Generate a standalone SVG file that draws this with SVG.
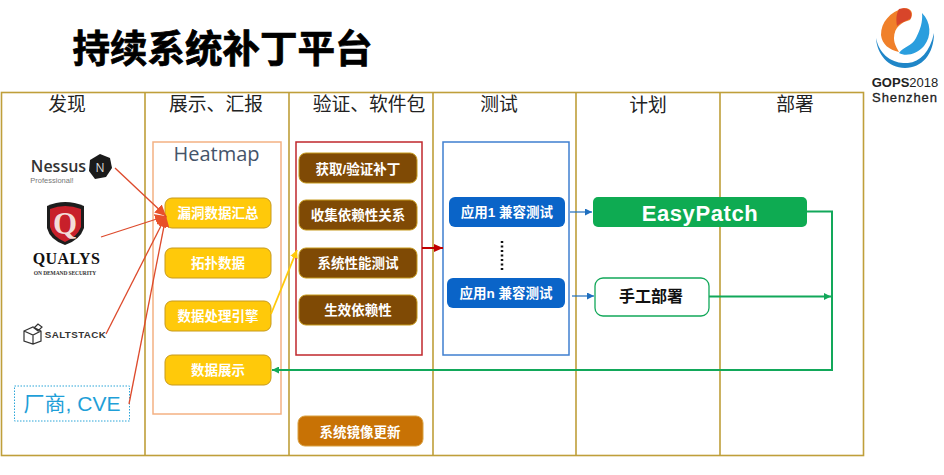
<svg xmlns="http://www.w3.org/2000/svg" width="944" height="475" viewBox="0 0 944 475">
<style>
text{font-family:"Liberation Sans","Noto Sans CJK SC",sans-serif;text-anchor:middle}
.h{font-size:18.8px;fill:#222}
.grid{fill:none;stroke:#bf9f3a;stroke-width:1.6}
.y rect{fill:#ffc90a;stroke:#c79a1c;stroke-width:1}
.y text,.b text,.o text{fill:#fff;font-size:13.5px;font-weight:700}
.b rect{fill:#7f4a05;stroke:#c79a1c;stroke-width:1}
.o rect{fill:#c87205;stroke:#d9a040;stroke-width:1}
.t rect{fill:#0a64c8}
.t text{fill:#fff;font-size:13.5px;font-weight:700}
.red{stroke:#dd4a2c;stroke-width:1.3;fill:none}
.grn{stroke:#12a85a;stroke-width:2;fill:none}
.blu{stroke:#1f6fbf;stroke-width:1.2;fill:none}
</style>
<defs>
<marker id="mr" markerUnits="userSpaceOnUse" markerWidth="12" markerHeight="11" refX="11" refY="5.500" orient="auto"><path d="M0 0L11 5.500L0 11z" fill="#e8502a"/></marker>
<marker id="my" markerUnits="userSpaceOnUse" markerWidth="9" markerHeight="8" refX="8" refY="4" orient="auto"><path d="M0 0L8 4L0 8z" fill="#ffc90a"/></marker>
<marker id="md" markerUnits="userSpaceOnUse" markerWidth="10" markerHeight="8" refX="9" refY="4" orient="auto"><path d="M0 0L9 4L0 8z" fill="#c00000"/></marker>
<marker id="mb" markerUnits="userSpaceOnUse" markerWidth="8" markerHeight="7" refX="7" refY="3.500" orient="auto"><path d="M0 0L7 3.500L0 7z" fill="#1f6fbf"/></marker>
<marker id="mg" markerUnits="userSpaceOnUse" markerWidth="8" markerHeight="7" refX="7" refY="3.500" orient="auto"><path d="M0 0L7 3.500L0 7z" fill="#12a85a"/></marker>
</defs>
<rect width="944" height="475" fill="#fff"/>
<text id="title" x="222.500" y="62" style="font-size:37.500px;font-weight:700;stroke:#000;stroke-width:.7" fill="#000">持续系统补丁平台</text>
<g id="grid">
<rect class="grid" x="1.500" y="92.500" width="862" height="363"/>
<path class="grid" d="M145 92V456M289 92V456M433 92V456M576 92V456M720 92V456"/>
</g>
<g id="headers">
<text class="h" x="67" y="111">发现</text>
<text class="h" x="216" y="111">展示、汇报</text>
<text class="h" x="369" y="111">验证、软件包</text>
<text class="h" x="499" y="111">测试</text>
<text class="h" x="648" y="112">计划</text>
<text class="h" x="795" y="111">部署</text>
</g>
<g id="logo">
<path d="M876 38C880 58 896 64 908 63C920 62 930 52 934 33C934 54 922 68 905 68C888 68 877 54 876 38z" fill="#1f86c8"/>
<path d="M881 35C881 22 890 12 904 8C912 8 914 14 910 20C902 22 894 27 894 38C894 44 897 48 899 52C889 50 882 44 881 35z" fill="#f0802a"/>
<path d="M899 9C906 7 913 9 911 18C907 21 901 22 897 26C896 20 896 14 899 9z" fill="#d8452a"/>
<path d="M922 13C931 22 932 36 924 46C917 54 906 57 899 53C903 47 912 46 916 38C920 30 923 22 922 13z" fill="#2a9ede"/>
<text x="905" y="87" style="font-size:13px;font-weight:700" fill="#222">GOPS<tspan font-weight="400">2018</tspan></text>
<text x="905" y="102" style="font-size:13px;font-weight:400;letter-spacing:.9px;stroke:#222;stroke-width:.3" fill="#222">Shenzhen</text>
</g>
<g id="nessus">
<text x="58.500" y="172" style="font-size:16px;font-family:'Open Sans',sans-serif;font-weight:600" fill="#333">Nessus</text>
<path d="M100 154L110 158L112 168L106 177L95 179L89 171L90 160z" fill="#1a1a1a"/>
<text x="100" y="172" style="font-size:12px;font-family:'Open Sans',sans-serif" fill="#ddd">N</text>
<text x="52" y="183" style="font-size:7.500px" fill="#777">Professional!</text>
</g>
<g id="qualys">
<path d="M47 206Q65 198 84 206V228Q80 240 65 245Q50 240 47 228z" fill="#1d1d1d"/>
<path d="M50 209Q65 203 81 209V227Q77 237 65 242Q53 237 50 227z" fill="#c8202a"/>
<text x="65" y="234" style="font-size:31px;font-weight:700;font-family:'Liberation Serif',serif" fill="#f3dcd8">Q</text>
<text x="66.500" y="264" style="font-size:16px;font-weight:700;letter-spacing:.4px;font-family:'Liberation Serif',serif" fill="#111">QUALYS</text>
<text x="65" y="275" style="font-size:5.500px;letter-spacing:-.1px;font-family:'Liberation Serif',serif;font-weight:700" fill="#333">ON DEMAND SECURITY</text>
</g>
<g id="saltstack">
<path d="M24 331L33 327L41 331V341L33 344L24 341zM24 331L33 335L41 331M33 335V344M34 328L38 324L42 327L38 331z" fill="none" stroke="#333" stroke-width="1.200"/>
<text x="75.500" y="338" style="font-size:9.800px;font-weight:700;letter-spacing:.4px" fill="#333">SALTSTACK</text>
</g>
<g id="vendor">
<rect x="14.500" y="386" width="115" height="35" fill="#fff" stroke="#2aa5d8" stroke-width="1" stroke-dasharray="1.500 1.500"/>
<text x="72" y="411" style="font-size:21px" fill="#1f9fd8">厂商, CVE</text>
</g>
<g id="heatmap">
<rect x="153" y="142" width="128" height="272" fill="none" stroke="#f4b183" stroke-width="1.500"/>
<text x="216.500" y="161" style="font-size:20px;font-family:'Open Sans',sans-serif" fill="#44546a">Heatmap</text>
</g>
<g id="n1" class="y"><rect x="165" y="198" width="106" height="30" rx="7"/><text x="218" y="218">漏洞数据汇总</text></g>
<g id="n2" class="y"><rect x="165" y="248" width="106" height="30" rx="7"/><text x="218" y="268">拓扑数据</text></g>
<g id="n3" class="y"><rect x="165" y="301" width="106" height="30" rx="7"/><text x="218" y="321">数据处理引擎</text></g>
<g id="n4" class="y"><rect x="165" y="355" width="106" height="30" rx="7"/><text x="218" y="375">数据展示</text></g>
<g id="verify"><rect x="296" y="142" width="126" height="213" fill="none" stroke="#c0272d" stroke-width="1.500"/></g>
<g id="n5" class="b"><rect x="299" y="153" width="118" height="30" rx="7"/><text x="358" y="174">获取/验证补丁</text></g>
<g id="n6" class="b"><rect x="299" y="200" width="118" height="30" rx="7"/><text x="358" y="220">收集依赖性关系</text></g>
<g id="n7" class="b"><rect x="299" y="248" width="118" height="30" rx="7"/><text x="358" y="268">系统性能测试</text></g>
<g id="n8" class="b"><rect x="299" y="295" width="118" height="30" rx="7"/><text x="358" y="315">生效依赖性</text></g>
<g id="n9" class="o"><rect x="298" y="416" width="125" height="30" rx="7"/><text x="360" y="437">系统镜像更新</text></g>
<g id="testbox"><rect x="443" y="142" width="126" height="213" fill="none" stroke="#3f7fd0" stroke-width="1.500"/></g>
<g id="n10" class="t"><rect x="449" y="197" width="116" height="30" rx="6"/><text x="507" y="217">应用1 兼容测试</text></g>
<g id="n11" class="t"><rect x="447" y="278" width="118" height="30" rx="6"/><text x="506" y="298">应用n 兼容测试</text></g>
<g id="n12"><rect x="593" y="197" width="214" height="30" rx="5" fill="#0eab52"/><text x="700" y="221" style="font-size:22px;font-weight:700;letter-spacing:.6px" fill="#fff">EasyPatch</text></g>
<g id="n13"><rect x="595" y="278" width="114" height="38" rx="8" fill="#fff" stroke="#12a85a" stroke-width="1.300"/><text x="651" y="302" style="font-size:16px;font-weight:700" fill="#111">手工部署</text></g>
<g id="connectors">
<path class="red" marker-end="url(#mr)" d="M115 168L166 216"/>
<path class="red" marker-end="url(#mr)" d="M101 237L166 216"/>
<path class="red" marker-end="url(#mr)" d="M106 334L166 216"/>
<path class="red" marker-end="url(#mr)" d="M129 404L166 216"/>
<path d="M271 314L297 250" stroke="#ffc90a" stroke-width="1.800" fill="none" marker-end="url(#my)"/>
<path d="M422 248H443" stroke="#c00000" stroke-width="2" fill="none" marker-end="url(#md)"/>
<path d="M502 241V270" stroke="#111" stroke-width="2.500" stroke-dasharray="2 2.500" fill="none"/>
<path class="blu" marker-end="url(#mb)" d="M570 212H592"/>
<path class="blu" marker-end="url(#mb)" d="M572 296H594"/>
<path class="grn" marker-end="url(#mg)" d="M709 296.500H831"/>
<path class="grn" marker-end="url(#mg)" d="M807 211.500H832V370H272"/>
</g>
</svg>
